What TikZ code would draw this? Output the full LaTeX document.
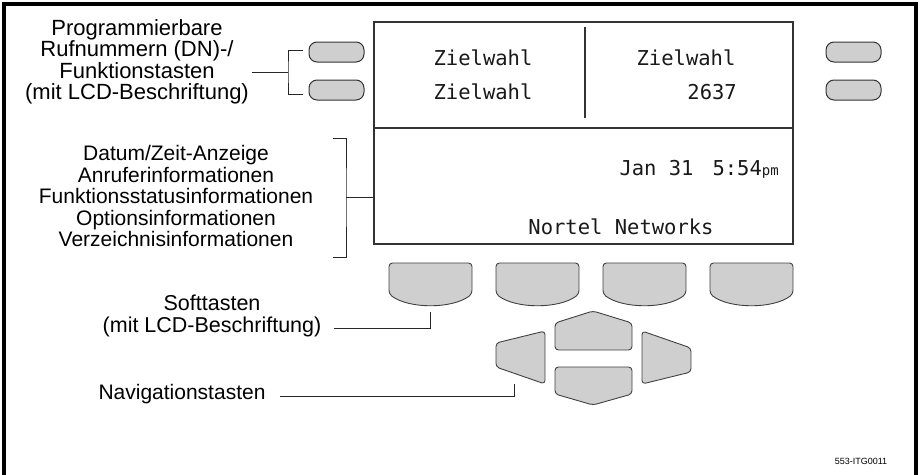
\documentclass[tikz,border=0pt]{standalone}
\usepackage{fontspec}
\setmainfont{Liberation Sans}
\newfontfamily\lcd{DejaVu Sans Mono}
\usetikzlibrary{calc}
\begin{document}
\begin{tikzpicture}[x=1pt,y=-1pt]
\tikzset{
 frame/.style={line width=4pt,black},
 keyshape/.style={draw=black!75,fill=black!19,line width=0.9pt,rounded corners=3.5pt},
 pill/.style={draw=black!80,fill=black!19,line width=1pt,rounded corners=8pt,minimum width=55pt,minimum height=20pt,inner sep=0pt},
 lcdline/.style={draw=black!80,line width=1.2pt},
 conn/.style={draw=black!85,line width=1pt},
 lbl/.style={align=center,font=\fontsize{21}{21.5}\selectfont,inner sep=0pt},
 lbltop/.style={align=center,font=\fontsize{22}{21.5}\selectfont,inner sep=0pt},
 lcdtxt/.style={font=\lcd\fontsize{20.5}{22}\selectfont,inner sep=0pt,text=black!90},
}
\useasboundingbox (0,0) rectangle (920,474);
\draw[frame] (4,480) -- (4,4) -- (916,4) -- (916,480);

% display
\draw[lcdline] (374,22) rectangle (793,244);
\draw[lcdline] (374,128) -- (793,128);
\draw[lcdline] (585,27) -- (585,118);
\node[lcdtxt] (z1) at (483,58) {Zielwahl};
\node[lcdtxt] (z2) at (483,92) {Zielwahl};
\node[lcdtxt] (z3) at (686,58) {Zielwahl};
\node[lcdtxt,anchor=east] (z4) at (737,92) {2637};
\node[lcdtxt,anchor=east] (dt) at (779,169) {Jan 31\hspace{19pt}5:54{\fontsize{14}{14}\selectfont pm}};
\node[lcdtxt] (nn) at (621,227) {Nortel Networks};

% line keys
\node[pill] (b1) at (336.5,52) {};
\node[pill] (b2) at (336.5,90) {};
\node[pill] (b3) at (853.5,52) {};
\node[pill] (b4) at (853.5,90) {};

% soft keys
\foreach \x/\n in {389/s1,496/s2,603/s3,710/s4}{
  \draw[keyshape] (\x,263) -- (\x,294) .. controls (\x+20,309) and (\x+63,309) .. (\x+83,294) -- (\x+83,263) -- cycle;
  \coordinate (\n) at (\x+41.5,305);
}

% navigation keys
\draw[keyshape] (593,311) -- (632,323) -- (632,350) -- (555,350) -- (555,323) -- cycle;
\draw[keyshape] (555,367) -- (632,367) -- (632,394) -- (593,405) -- (555,394) -- cycle;
\draw[keyshape] (545,331) -- (545,384) -- (496,367) -- (496,343) -- cycle;
\draw[keyshape] (642,331) -- (691,348) -- (691,372) -- (642,384) -- cycle;
\coordinate (nav) at (514,384);

% labels
\node[lbltop] (l1) at (137,62) {Programmierbare\\Rufnummern (DN)-/\\Funktionstasten\\(mit LCD-Beschriftung)};
\node[lbl] (l2) at (176,196) {Datum/Zeit-Anzeige\\Anruferinformationen\\Funktionsstatusinformationen\\Optionsinformationen\\Verzeichnisinformationen};
\node[lbl,font=\fontsize{21.5}{21.5}\selectfont] (l3) at (212,316) {Softtasten\\(mit LCD-Beschriftung)};
\node[lbl] (l4) at (182,394) {Navigationstasten};
\node[font=\fontsize{9}{10}\selectfont,inner sep=0pt] (code) at (861,461) {553-ITG0011};

% connectors
\coordinate (br1) at (288,72);
\coordinate (c1) at (252,72);
\draw[conn] (303,50) -| (br1) |- (303,94);
\draw[conn] (c1) -- (br1);

\coordinate (br2) at (346,197);
\coordinate (c2) at (374,197);
\draw[conn] (333,138) -| (br2) |- (333,257);
\draw[conn] (br2) -- (c2);

\coordinate (c3) at (334,328);
\draw[conn] (c3) -| ($(s1)+(0,7)$);

\coordinate (c4) at (280,396);
\draw[conn] (c4) -| (nav);
\end{tikzpicture}
\end{document}
